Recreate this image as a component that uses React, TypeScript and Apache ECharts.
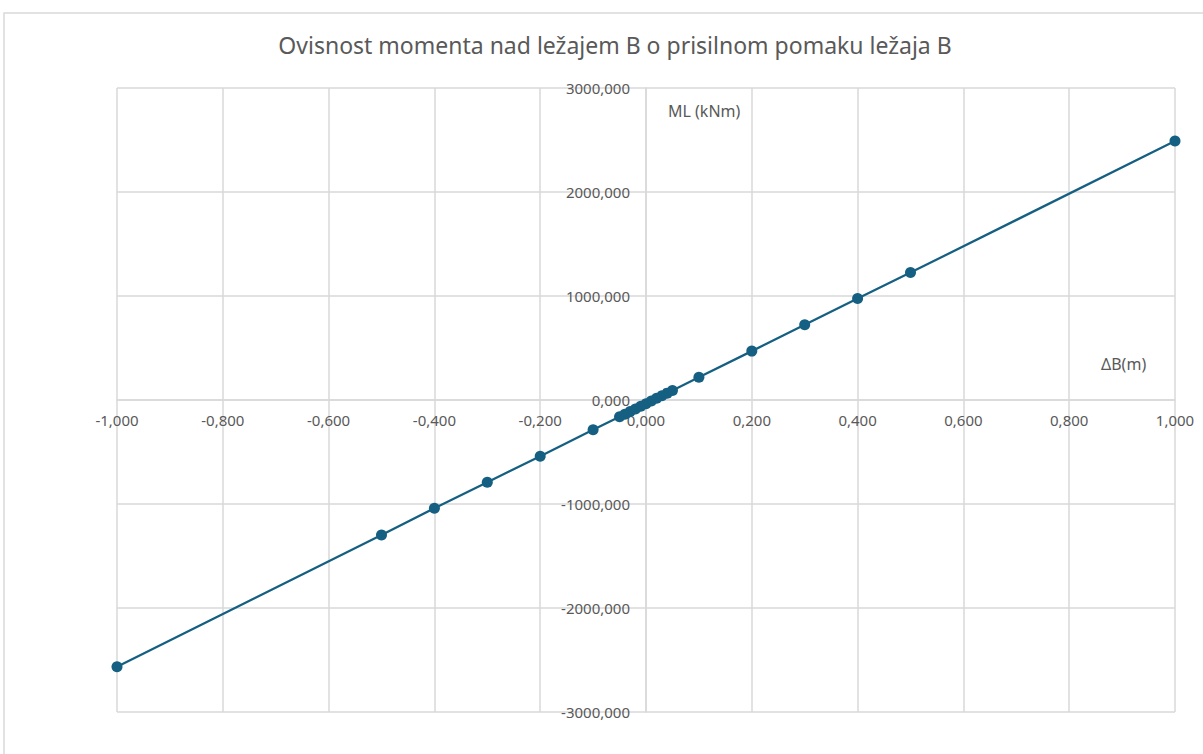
import React, { useEffect, useRef } from "react";
import * as echarts from "echarts";

const titleText = "Ovisnost momenta nad ležajem B o prisilnom pomaku ležaja B";
const xLabelName = "ΔB(m)";
const yLabelName = "ML (kNm)";
const displacement = [-1, -0.5, -0.4, -0.3, -0.2, -0.1, -0.05, -0.04, -0.03, -0.02, -0.01, 0, 0.01, 0.02, 0.03, 0.04, 0.05, 0.1, 0.2, 0.3, 0.4, 0.5, 1];
const moment = [-2565, -1298, -1040, -790, -540, -287, -160, -136, -111, -86, -60, -35, -10, 16, 41, 66, 92, 218, 470, 724, 976, 1225, 2490];

const fmt = (v: number) => v.toFixed(3).replace(".", ",");

export default function App() {
  const ref = useRef<HTMLDivElement>(null);
  useEffect(() => {
    if (!ref.current) return;
    const chart = echarts.init(ref.current, null, { renderer: "svg" });
    const font = "Noto Sans";
    const gray = "#595959";
    const gridColor = "#d9d9d9";
    chart.setOption({
      animation: false,
      textStyle: { fontFamily: font },
      title: {
        text: titleText,
        left: 610,
        top: 28,
        textAlign: "center",
        textStyle: { fontFamily: font, fontSize: 23, fontWeight: "normal", color: gray },
      },
      graphic: [
        {
          type: "rect",
          shape: { x: 4, y: 13, width: 1250, height: 800 },
          style: { fill: "none", stroke: gridColor, lineWidth: 1.5 },
          silent: true,
        },
        {
          type: "text",
          left: 668,
          top: 103,
          style: { text: yLabelName, fontFamily: font, fontSize: 16, fill: gray },
        },
        {
          type: "text",
          left: 1101,
          top: 356,
          style: { text: xLabelName, fontFamily: font, fontSize: 16, fill: gray },
        },
      ],
      grid: { left: 117, right: 28, top: 88, bottom: 42, containLabel: false },
      xAxis: {
        type: "value",
        min: -1,
        max: 1,
        interval: 0.2,
        position: "bottom",
        offset: -312,
        axisLine: { onZero: false, lineStyle: { color: gridColor, width: 1.5 } },
        axisTick: { show: false },
        axisLabel: { formatter: fmt, color: gray, fontSize: 15, margin: 12, fontFamily: font, showMinLabel: true, showMaxLabel: true },
        splitLine: { show: true, lineStyle: { color: gridColor, width: 1.5 } },
      },
      yAxis: {
        type: "value",
        min: -3000,
        max: 3000,
        interval: 1000,
        position: "left",
        offset: -529,
        axisLine: { onZero: false, lineStyle: { color: gridColor, width: 1.5 } },
        axisTick: { show: false },
        axisLabel: { formatter: fmt, color: gray, fontSize: 15, margin: 16, fontFamily: font, showMinLabel: true, showMaxLabel: true },
        splitLine: { show: true, lineStyle: { color: gridColor, width: 1.5 } },
      },
      series: [
        {
          type: "line",
          data: displacement.map((x, i) => [x, moment[i]]),
          symbol: "circle",
          symbolSize: 11,
          itemStyle: { color: "#156082" },
          lineStyle: { color: "#156082", width: 2.25 },
        },
      ],
    });
    return () => chart.dispose();
  }, []);
  return (
    <div
      ref={ref}
      style={{ position: "fixed", left: 0, top: 0, width: 1203, height: 754, background: "#fff" }}
    />
  );
}
